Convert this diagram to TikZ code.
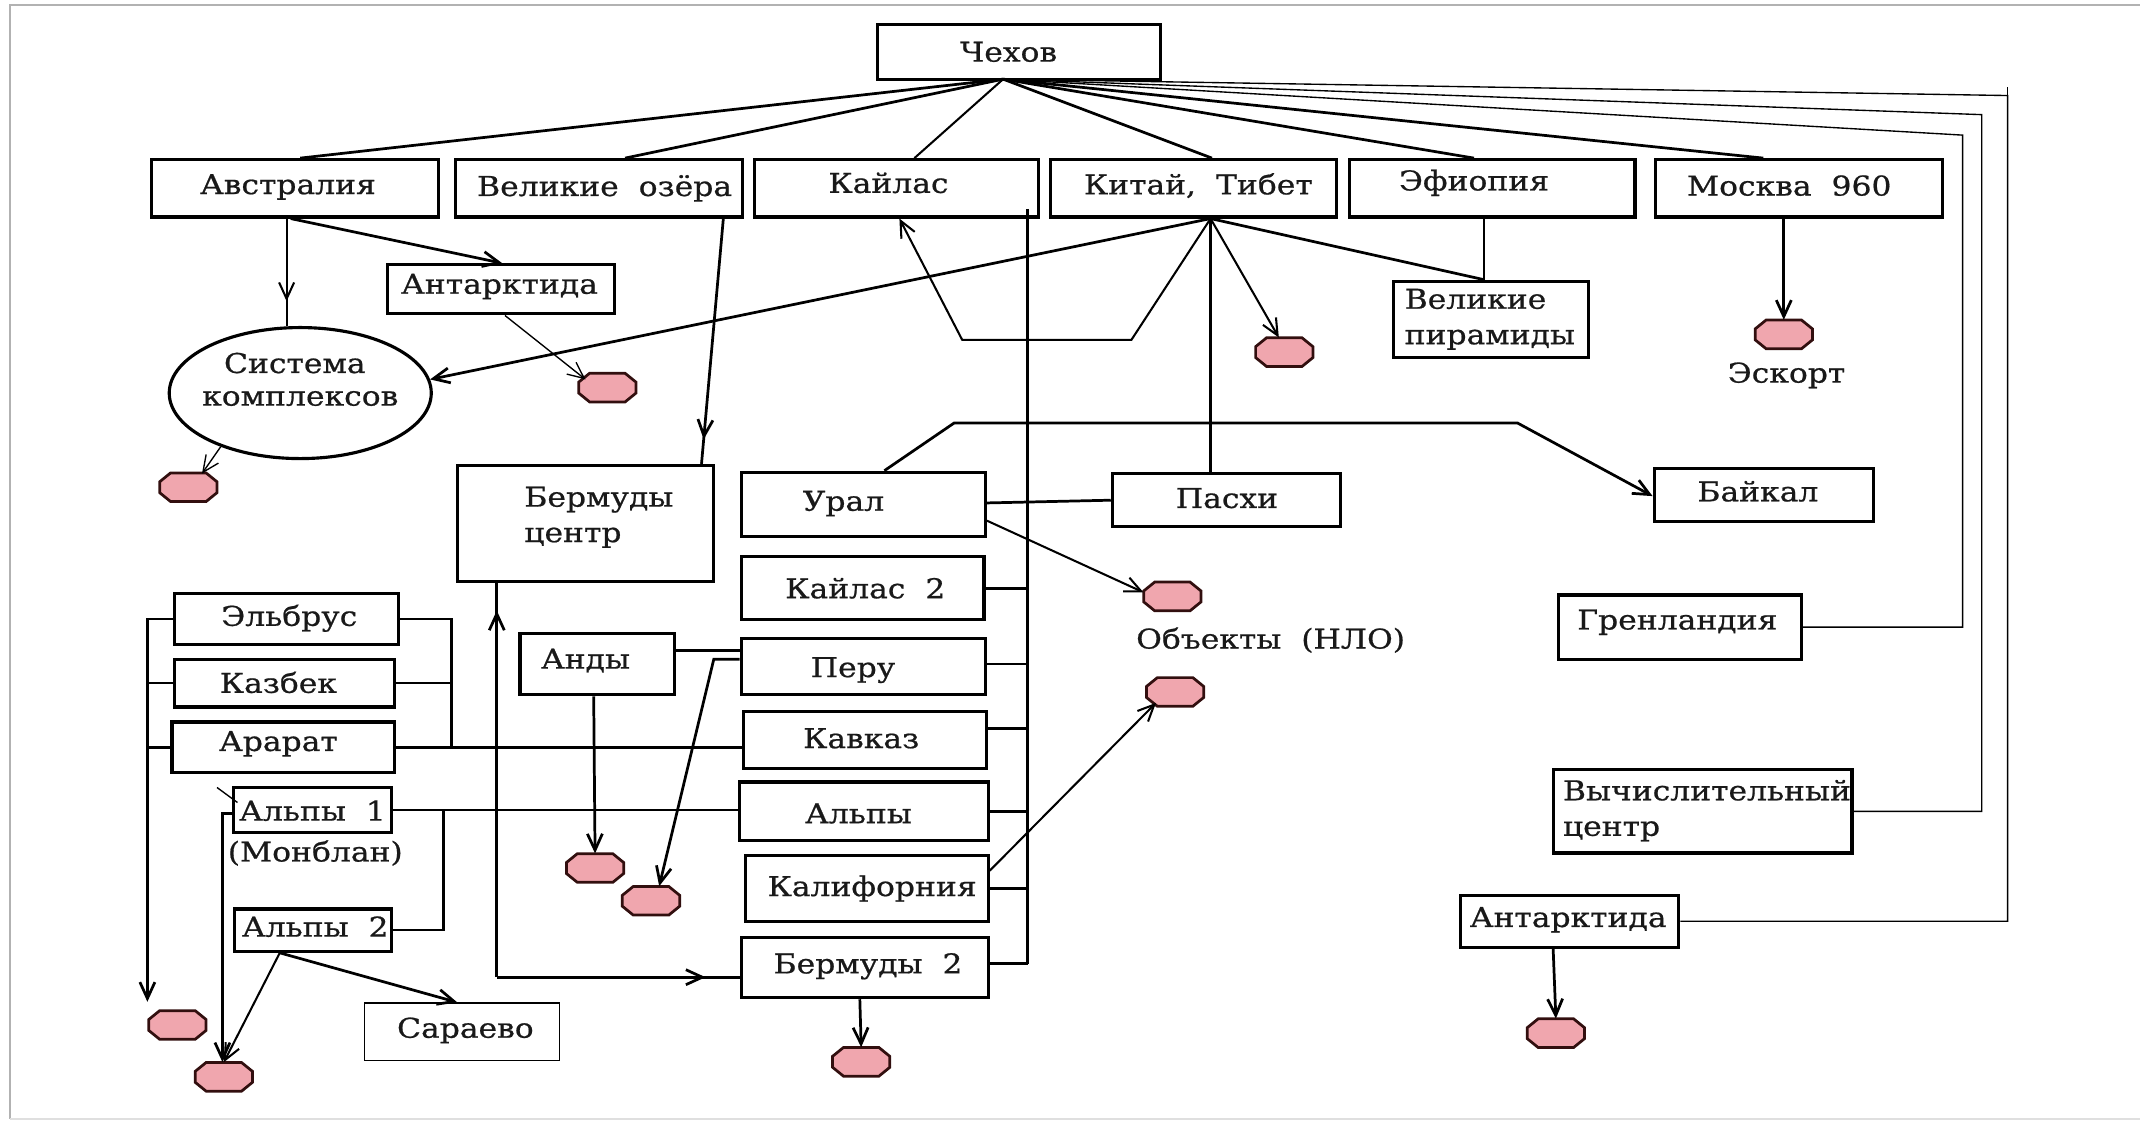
\documentclass[tikz,border=0pt]{standalone}
\usepackage{fontspec}
\newfontfamily\dfont{DejaVu Serif}[FakeStretch=1.15, WordSpace=2, FakeBold=0.7]
\usetikzlibrary{arrows.meta,decorations.markings,shapes.geometric,calc}
\definecolor{blobpink}{RGB}{240,166,174}
\definecolor{blobedge}{RGB}{50,15,15}
\newcommand\myblob[3]{%
  \node[blobbox] (#1) at (#2,#3) {};
  \filldraw[fill=blobpink, draw=blobedge, line width=2pt]
    ($(#1.center)+(-13,-10.5)$) -- ($(#1.center)+(13,-10.5)$) -- ($(#1.center)+(21,-4)$) --
    ($(#1.center)+(21,4)$) -- ($(#1.center)+(13,10.5)$) -- ($(#1.center)+(-13,10.5)$) --
    ($(#1.center)+(-21,4)$) -- ($(#1.center)+(-21,-4)$) -- cycle;}
\begin{document}
\begin{tikzpicture}[x=1pt,y=-1pt,
  font=\dfont\fontsize{20}{26}\selectfont,
  box/.style={draw, line width=2.3pt, inner sep=0pt},
  thinbox/.style={draw, line width=1.2pt, inner sep=0pt},
  txt/.style={inner sep=0pt, align=left, text=black!90},
  blobbox/.style={draw=none, minimum width=42pt, minimum height=21pt, inner sep=0pt},
  ln/.style={line width=2pt},
  mln/.style={line width=1.5pt},
  tn/.style={line width=1pt},
  arr/.style={-{Straight Barb[length=12pt,width=11pt]}},
  midarr/.style={postaction={decorate}, decoration={markings, mark=at position #1 with {\arrow{Straight Barb[length=12pt,width=11pt]}}}},
]
\useasboundingbox (0,0) rectangle (1568,822);
% frame
\draw[gray!60, line width=1.5pt] (1568,3.5) -- (7,3.5) -- (7,820);
\draw[gray!25, line width=1pt] (7,820) -- (1568,820);

% top row
\node[box, minimum width=207pt, minimum height=40pt] (chekhov) at (746.5,38) {};
\node[txt] (chekhov-t) at (739,38) {Чехов};
\node[box, minimum width=210pt, minimum height=42pt] (avst) at (216,138) {};
\node[txt] (avst-t) at (211,137) {Австралия};
\node[box, minimum width=210pt, minimum height=42pt] (vozera) at (439,138) {};
\node[txt] (vozera-t) at (443,138) {Великие озёра};
\node[box, minimum width=208pt, minimum height=42pt] (kailas) at (657,138) {};
\node[txt] (kailas-t) at (651,134) {Кайлас};
\node[box, minimum width=209pt, minimum height=42pt] (kitai) at (874.5,138) {};
\node[txt] (kitai-t) at (878,136) {Китай, Тибет};
\node[box, minimum width=209pt, minimum height=42pt] (efiop) at (1093.5,138) {};
\node[txt] (efiop-t) at (1080,134) {Эфиопия};
\node[box, minimum width=210pt, minimum height=42pt] (moskva) at (1318,138) {};
\node[txt] (moskva-t) at (1311,136) {Москва 960};

% second level
\node[box, minimum width=166pt, minimum height=36pt] (ant1) at (367,212) {};
\node[txt] (ant1-t) at (366,210) {Антарктида};
\node[ellipse, draw, line width=2.3pt, minimum width=192pt, minimum height=96pt, inner sep=0pt] (sys) at (220,288) {};
\node[txt] (sys-t1) at (216,266) {Система};
\node[txt] (sys-t2) at (220,292) {комплексов};
\node[box, minimum width=143pt, minimum height=56pt] (pyr) at (1092.5,234) {};
\node[txt, anchor=west] (pyr-t) at (1029,234) {Великие\\пирамиды};

% middle
\node[box, minimum width=188pt, minimum height=85pt] (bc) at (429,383.5) {};
\node[txt, anchor=west] (bc-t) at (384,379) {Бермуды\\центр};
\node[box, minimum width=179pt, minimum height=47pt] (ural) at (632.5,369.5) {};
\node[txt] (ural-t) at (618,369) {Урал};
\node[box, minimum width=167pt, minimum height=39pt] (paskhi) at (898.5,366.5) {};
\node[txt] (paskhi-t) at (899,365) {Пасхи};
\node[box, minimum width=161pt, minimum height=39pt] (baikal) at (1292.5,362.5) {};
\node[txt] (baikal-t) at (1288,360) {Байкал};
\node[box, minimum width=178pt, minimum height=46pt] (kailas2) at (632,431) {};
\node[txt] (kailas2-t) at (634,431) {Кайлас 2};
\node[box, minimum width=113pt, minimum height=45pt] (andy) at (437.5,486.5) {};
\node[txt] (andy-t) at (429,484) {Анды};
\node[box, minimum width=179pt, minimum height=41pt] (peru) at (632.5,488.5) {};
\node[txt] (peru-t) at (625,491) {Перу};
\node[box, minimum width=178pt, minimum height=42pt] (kavkaz) at (634,542) {};
\node[txt] (kavkaz-t) at (631,541) {Кавказ};
\node[box, minimum width=182pt, minimum height=43pt] (alpy) at (633,594.5) {};
\node[txt] (alpy-t) at (629,596) {Альпы};
\node[box, minimum width=178pt, minimum height=48pt] (kalif) at (635,651) {};
\node[txt] (kalif-t) at (639,651) {Калифорния};
\node[box, minimum width=181pt, minimum height=44pt] (berm2) at (633.5,709) {};
\node[txt] (berm2-t) at (636,708) {Бермуды 2};

% left group
\node[box, minimum width=164pt, minimum height=37pt] (elbrus) at (210,453.5) {};
\node[txt] (elbrus-t) at (212,453) {Эльбрус};
\node[box, minimum width=161pt, minimum height=35pt] (kazbek) at (208.5,500.5) {};
\node[txt] (kazbek-t) at (204,500) {Казбек};
\node[box, minimum width=163pt, minimum height=37pt] (ararat) at (207.5,547.5) {};
\node[txt] (ararat-t) at (204,545) {Арарат};
\node[box, minimum width=116pt, minimum height=33pt] (alpy1) at (229,593.5) {};
\node[txt] (alpy1-t) at (229,594) {Альпы 1};
\node[txt] (monblan) at (231,625) {(Монблан)};
\node[box, minimum width=115pt, minimum height=31pt] (alpy2) at (229.5,681.5) {};
\node[txt] (alpy2-t) at (231,679) {Альпы 2};
\node[thinbox, minimum width=143pt, minimum height=42pt] (sarajevo) at (338.5,756) {};
\node[txt] (sarajevo-t) at (341,755) {Сараево};

% right group
\node[box, minimum width=178pt, minimum height=47pt] (grenl) at (1231,459.5) {};
\node[txt] (grenl-t) at (1229,456) {Гренландия};
\node[box, minimum width=219pt, minimum height=61pt] (vych) at (1247.5,594.5) {};
\node[txt, anchor=west] (vych-t) at (1145,594) {Вычислительный\\центр};
\node[box, minimum width=160pt, minimum height=38pt] (ant2) at (1150,675) {};
\node[txt] (ant2-t) at (1149,674) {Антарктида};

% blobs
\myblob{b-sys}{138}{357}
\myblob{b-ant1}{445}{284}
\myblob{b-kit}{941}{258}
\myblob{b-esk}{1307}{245}
\node[txt] (esk-t) at (1309,275) {Эскорт};
\myblob{b-ufo1}{859}{437}
\node[txt] (ufo-t) at (931,469) {Объекты (НЛО)};
\myblob{b-ufo2}{861}{507}
\myblob{b-andy}{436}{636}
\myblob{b-peru}{477}{660}
\myblob{b-b2}{631}{778}
\myblob{b-l1}{130}{751}
\myblob{b-l2}{164}{789}
\myblob{b-ant2}{1140}{757}

% hub from Chekhov
\coordinate (hub) at (735,58);
\draw[ln] (hub) -- ([xshift=4pt]avst.north);
\draw[ln] (hub) -- ([xshift=19pt]vozera.north);
\draw[mln] (hub) -- ([xshift=13pt]kailas.north);
\draw[ln] (hub) -- ([xshift=13.5pt]kitai.north);
\draw[ln] (hub) -- ([xshift=-13.5pt]efiop.north);
\draw[ln] (hub) -- ([xshift=-26pt]moskva.north);
\coordinate (rt1) at (1438,99);
\coordinate (rt2) at (1452,84);
\coordinate (rt3) at (1471,70);
\coordinate (rt3top) at (1471,64);
\draw[tn] (hub) -- (rt1) |- (grenl.east);
\draw[tn] (hub) -- (rt2) |- (vych.east);
\draw[tn] (hub) -- (rt3) |- (ant2.east);
\draw[tn] (rt3top) -- (rt3);

% Australia
\draw[ln, arr] ([xshift=-3pt]avst.south) -- ([xshift=1pt]ant1.north);
\draw[mln, midarr=0.77] ([xshift=-6pt]avst.south) -- ([xshift=-10pt]sys.north);
\draw[tn, arr] ([xshift=3pt]ant1.south) -- ([xshift=-16pt,yshift=6pt]b-ant1.center);
\draw[tn, arr] (sys.214) -- ([xshift=10pt,yshift=10pt]b-sys.center);

% Great lakes -> Bermuda centre
\draw[ln, midarr=0.9] ([xshift=91pt]vozera.south) -- ([xshift=85pt]bc.north);

% China, Tibet hub
\coordinate (khub) at ([xshift=12.5pt]kitai.south);
\coordinate (kz1) at (829,249);
\coordinate (kz2) at (705,249);
\coordinate (pyrtop) at ([xshift=-5.5pt]pyr.north);
\draw[ln, arr] (khub) -- (sys.6);
\draw[mln, arr] (khub) -- (kz1) -- (kz2) -- ([xshift=2pt]kailas.south);
\draw[mln, arr] (khub) -- ([xshift=-4pt]b-kit.north);
\draw[ln] (khub) -- (khub |- paskhi.north);
\draw[ln] (khub) -- (pyrtop);
\draw[mln] ([xshift=-6.5pt]efiop.south) -- (pyrtop);

% Moscow -> escort
\draw[ln, arr] ([xshift=-11pt]moskva.south) -- (b-esk.north);

% Kailas bus
\coordinate (kv1) at (753,153);
\coordinate (kv2) at (753,706);
\draw[ln] (kv1) -- (kv2);
\draw[ln] (kailas2.east) -- (kailas2.east -| kv1);
\coordinate (pe) at ([yshift=2pt]peru.east);
\draw[ln] (pe) -- (pe -| kv1);
\coordinate (kve) at ([yshift=8pt]kavkaz.east);
\draw[ln] (kve) -- (kve -| kv1);
\draw[ln] (alpy.east) -- (alpy.east -| kv1);
\draw[ln] (kalif.east) -- (kalif.east -| kv1);
\coordinate (b2e) at ([yshift=3pt]berm2.east);
\draw[ln] (b2e) -- (b2e -| kv1);

% Ural
\draw[ln] ([yshift=1pt]ural.east) -- (paskhi.west);
\draw[mln, arr] ([yshift=-12pt]ural.east) -- ([yshift=3pt]b-ufo1.west);
\coordinate (bk1) at (699,310);
\coordinate (bk2) at (1112,310);
\draw[ln, arr] ([xshift=15.5pt]ural.north) -- (bk1) -- (bk2) -- ([yshift=-1pt]baikal.west);

% Bermuda corner
\coordinate (bcc) at (364,716);
\draw[ln, midarr=0.93] (bcc) -- (bcc |- bc.south);
\draw[ln, midarr=0.86] (bcc) -- (bcc -| berm2.west);

% Andes / Peru
\coordinate (ae) at ([yshift=10pt]andy.east);
\draw[ln] (ae) -- (ae -| peru.west);
\coordinate (pw) at ([yshift=5.5pt]peru.west);
\coordinate (pd1) at (523,483);
\draw[ln, arr] (pw) -- (pd1) -- ([xshift=6pt]b-peru.north);
\draw[ln, arr] ([xshift=-2.5pt]andy.south) -- (b-andy.north);

% left bus
\coordinate (lb) at (108,453.5);
\coordinate (lbe) at (108,734);
\draw[ln, arr] (elbrus.west) -- (lb) -- (lbe);
\draw[ln] (kazbek.west) -- (kazbek.west -| lb);
\draw[ln] (ararat.west) -- (ararat.west -| lb);

% right bus
\coordinate (rb) at (331,547.5);
\draw[ln] (elbrus.east) -| (rb);
\draw[ln] (kazbek.east) -- (kazbek.east -| rb);
\draw[ln] (ararat.east) -- (ararat.east -| kavkaz.west);
\draw[ln] (alpy1.east) -- (alpy1.east -| alpy.west);
\coordinate (rb2) at (325,593.5);
\draw[ln] (alpy2.east) -| (rb2);

% Alps 1 / Alps 2
\coordinate (a1l) at (163,596);
\draw[ln, arr] (alpy1.west |- a1l) -- (a1l) -- (a1l |- b-l2.north);
\draw[tn] (159,577) -- (174,588);
\coordinate (a2s) at ([xshift=-24.5pt]alpy2.south);
\draw[mln, arr] (a2s) -- (b-l2.north);
\draw[ln, arr] (a2s) -- ([xshift=-3.5pt]sarajevo.north);

% California, Bermuda 2, Antarctica 2
\draw[mln, arr] ([yshift=13pt]kalif.east) -- ([xshift=-14pt,yshift=-8pt]b-ufo2.center);
\draw[ln, arr] ([xshift=-3.5pt]berm2.south) -- (b-b2.north);
\draw[ln, arr] ([xshift=-12pt]ant2.south) -- (b-ant2.north);
\end{tikzpicture}
\end{document}
